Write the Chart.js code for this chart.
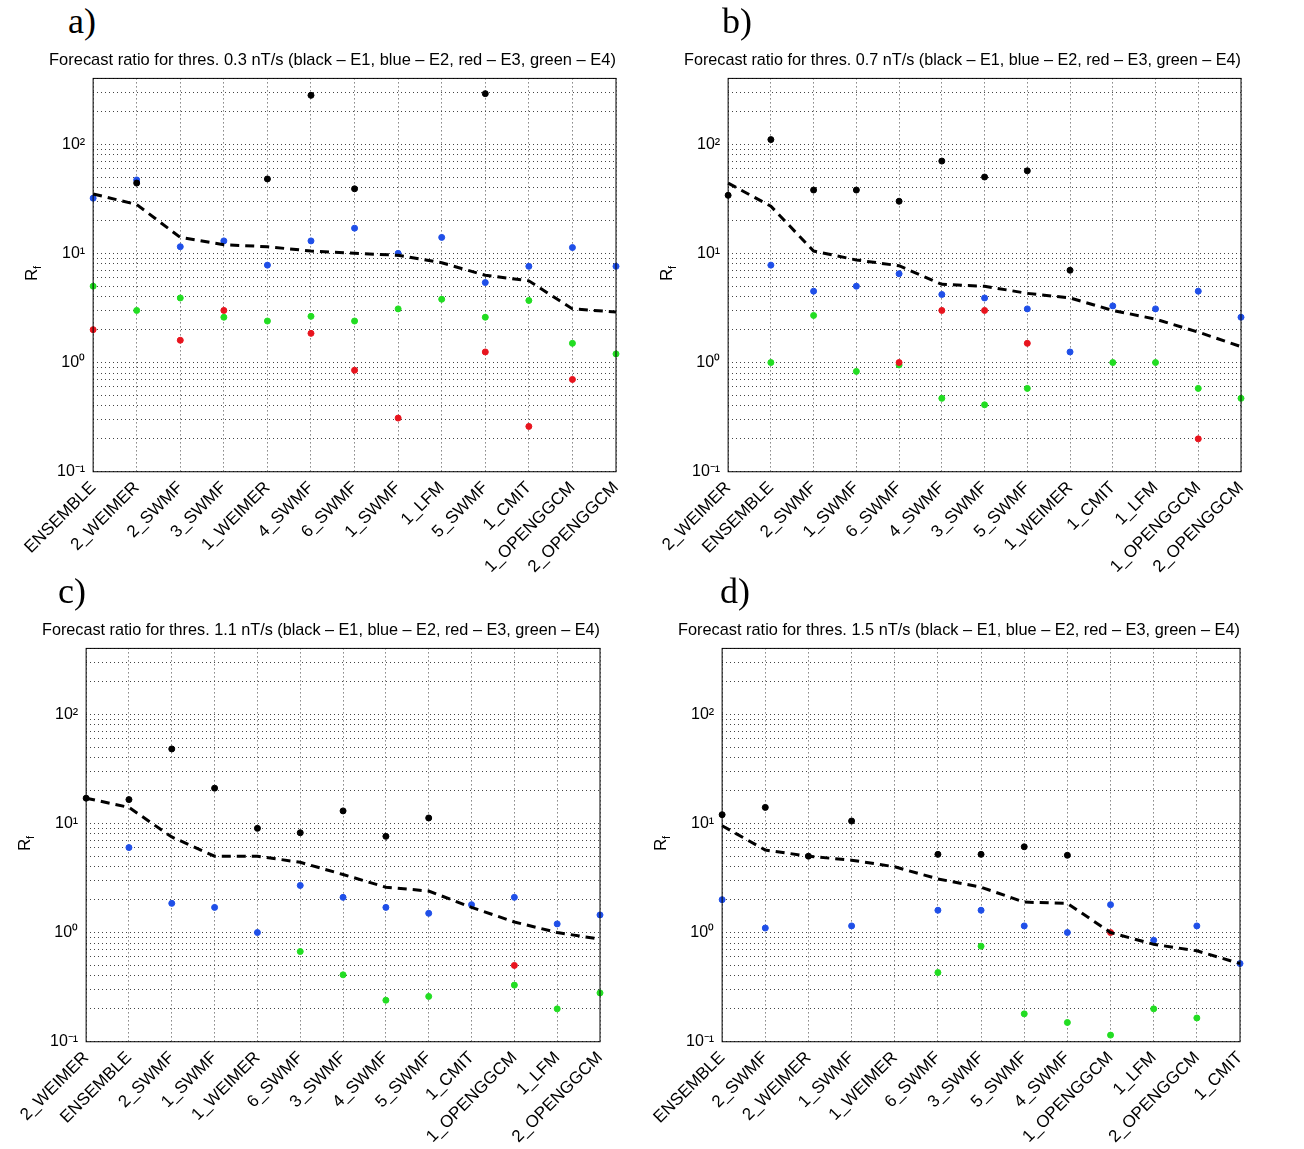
<!DOCTYPE html>
<html>
<head>
<meta charset="utf-8">
<script src="https://cdn.jsdelivr.net/npm/chart.js@4.4.0/dist/chart.umd.min.js"></script>
<style>
  body { margin: 0; background: #fff; width: 1304px; height: 1149px; position: relative; overflow: hidden; }
  .panel { position: absolute; width: 652px; height: 580px; }
  .letter { position: absolute; top: 0; font-family: "Liberation Serif", "DejaVu Serif", serif; font-size: 36px; }
  .panel canvas { position: absolute; left: 0; top: 42px; }
</style>
</head>
<body>
<div class="panel" style="left:0;top:0"><div class="letter" style="left:68px">a)</div><canvas id="ca" width="652" height="541"></canvas></div>
<div class="panel" style="left:632px;top:0"><div class="letter" style="left:90px">b)</div><canvas id="cb" width="672" height="541"></canvas></div>
<div class="panel" style="left:0;top:570px"><div class="letter" style="left:58px">c)</div><canvas id="cc" width="652" height="541"></canvas></div>
<div class="panel" style="left:632px;top:570px"><div class="letter" style="left:88px">d)</div><canvas id="cd" width="672" height="541"></canvas></div>
<script>
// ---------------------------------------------------------------------------
// Data (null = no point shown)
const catsA = ["ENSEMBLE","2_WEIMER","2_SWMF","3_SWMF","1_WEIMER","4_SWMF","6_SWMF","1_SWMF","1_LFM","5_SWMF","1_CMIT","1_OPENGGCM","2_OPENGGCM"];
const e1A = [null,44,null,null,48,280,39,null,null,290,null,null,null];
const e2A = [32,47,11.5,13,7.8,13,17,10,14,5.4,7.6,11.3,7.6];
const e3A = [2,null,1.6,3,null,1.85,0.85,0.31,null,1.25,0.26,0.7,null];
const e4A = [5,3,3.9,2.6,2.4,2.65,2.4,3.1,3.8,2.6,3.7,1.5,1.2];
const lineA = [35,28,14,12,11.5,10.5,10,9.6,8.2,6.3,5.6,3.1,2.9];

const catsB = ["2_WEIMER","ENSEMBLE","2_SWMF","1_SWMF","6_SWMF","4_SWMF","3_SWMF","5_SWMF","1_WEIMER","1_CMIT","1_LFM","1_OPENGGCM","2_OPENGGCM"];
const e1B = [34,110,38,38,30,70,50,57,7,null,null,null,null];
const e2B = [null,7.8,4.5,5,6.5,4.2,3.9,3.1,1.25,3.3,3.1,4.5,2.6];
const e3B = [null,null,null,null,1.0,3,3,1.5,null,null,null,0.2,null];
const e4B = [null,1.0,2.7,0.83,0.95,0.47,0.41,0.58,null,1.0,1.0,0.58,0.47];
const lineB = [44,27,10.5,8.7,7.7,5.2,5,4.3,3.9,3.0,2.5,1.9,1.4];

const catsC = ["2_WEIMER","ENSEMBLE","2_SWMF","1_SWMF","1_WEIMER","6_SWMF","3_SWMF","4_SWMF","5_SWMF","1_CMIT","1_OPENGGCM","1_LFM","2_OPENGGCM"];
const e1C = [17,16.5,48,21,9,8.2,13,7.6,11.2,null,null,null,null];
const e2C = [null,6,1.85,1.7,1.0,2.7,2.1,1.7,1.5,1.8,2.1,1.2,1.45];
const e3C = [null,null,null,null,null,null,null,null,null,null,0.5,null,null];
const e4C = [null,null,null,null,null,0.67,0.41,0.24,0.26,null,0.33,0.2,0.28];
const lineC = [17,14,7.5,5,5,4.4,3.4,2.6,2.4,1.7,1.25,1.0,0.87];

const catsD = ["ENSEMBLE","2_SWMF","2_WEIMER","1_SWMF","1_WEIMER","6_SWMF","3_SWMF","5_SWMF","4_SWMF","1_OPENGGCM","1_LFM","2_OPENGGCM","1_CMIT"];
const e1D = [12,14,5,10.5,null,5.2,5.2,6.1,5.1,null,null,null,null];
const e2D = [2,1.1,null,1.15,null,1.6,1.6,1.15,1.0,1.8,0.85,1.15,0.52];
const e3D = [null,null,null,null,null,null,null,null,null,1.0,null,null,null];
const e4D = [null,null,null,null,null,0.43,0.75,0.18,0.15,0.115,0.2,0.165,null];
const lineD = [9.5,5.7,5,4.6,4.0,3.1,2.6,1.9,1.85,1.0,0.78,0.68,0.52];

const yMin = 0.1, yMax = 400;
const supers = { "-1": "10⁻¹", "0": "10⁰", "1": "10¹", "2": "10²" };

// ---------------------------------------------------------------------------
// Frame and R_f label
const framePlugin = {
    id: "frame",
    afterDraw(chart) {
        const a = chart.chartArea, ctx = chart.ctx;
        ctx.save();
        ctx.strokeStyle = "#000";
        ctx.lineWidth = 1;
        ctx.strokeRect(a.left, a.top, a.right - a.left, a.bottom - a.top);
        ctx.translate(a.left - 56, (a.top + a.bottom) / 2);
        ctx.rotate(-Math.PI / 2);
        ctx.fillStyle = "#000";
        ctx.font = "17px Helvetica, Arial, sans-serif";
        ctx.fillText("R", -6, 0);
        ctx.font = "11px Helvetica, Arial, sans-serif";
        ctx.fillText("f", 6, 4);
        ctx.restore();
    },
};

const dots = (data, color) => ({
    data, showLine: false, pointRadius: 3, pointHoverRadius: 3,
    pointBackgroundColor: color, pointBorderColor: color, borderColor: color,
});

function makeChart(id, cats, e1, e2, e3, e4, line, thres, padLeft, padRight) {
    new Chart(document.getElementById(id), {
        type: "line",
        data: {
            labels: cats,
            datasets: [
                { data: line, borderColor: "#000", borderWidth: 3, borderDash: [9, 6], pointRadius: 0, fill: false },
                dots(e1, "#000"),
                dots(e2, "#1f4fe8"),
                dots(e3, "#e8141e"),
                dots(e4, "#22dd22"),
            ],
        },
        options: {
            responsive: false,
            animation: false,
            layout: { padding: { left: padLeft, right: padRight, top: 0, bottom: 0 } },
            plugins: {
                legend: { display: false },
                tooltip: { enabled: false },
                title: {
                    display: true,
                    text: `Forecast ratio for thres. ${thres} nT/s (black – E1, blue – E2, red – E3, green – E4)`,
                    color: "#000",
                    font: { family: "Helvetica, Arial, sans-serif", size: 17, weight: "normal" },
                    padding: { top: 8, bottom: 8 },
                },
            },
            scales: {
                x: {
                    type: "category",
                    offset: false,
                    grid: { color: "#444", lineWidth: 1, drawTicks: false },
                    border: { display: false, dash: [1, 3] },
                    ticks: {
                        color: "#000", minRotation: 45, maxRotation: 45, autoSkip: false, padding: 6,
                        font: { family: "Helvetica, Arial, sans-serif", size: 17 },
                    },
                },
                y: {
                    type: "logarithmic",
                    min: yMin, max: yMax,
                    afterBuildTicks(scale) {
                        const t = [];
                        for (let e = -1; e <= 2; e++) {
                            for (let m = 1; m <= 9; m++) {
                                const v = m * Math.pow(10, e);
                                if (v <= yMax) t.push({ value: v });
                            }
                        }
                        scale.ticks = t;
                    },
                    grid: { color: "#444", lineWidth: 1, drawTicks: false },
                    border: { display: false, dash: [1, 3] },
                    ticks: {
                        color: "#000", padding: 8, autoSkip: false,
                        font: { family: "Helvetica, Arial, sans-serif", size: 16 },
                        callback(v) {
                            const e = Math.log10(v);
                            return Math.abs(e - Math.round(e)) < 1e-9 ? supers[String(Math.round(e))] : "";
                        },
                    },
                },
            },
        },
        plugins: [framePlugin],
    });
}

makeChart("ca", catsA, e1A, e2A, e3A, e4A, lineA, "0.3", 49, 36);
makeChart("cb", catsB, e1B, e2B, e3B, e4B, lineB, "0.7", 52, 63);
makeChart("cc", catsC, e1C, e2C, e3C, e4C, lineC, "1.1", 42, 52);
makeChart("cd", catsD, e1D, e2D, e3D, e4D, lineD, "1.5", 46, 64);
</script>
</body>
</html>
